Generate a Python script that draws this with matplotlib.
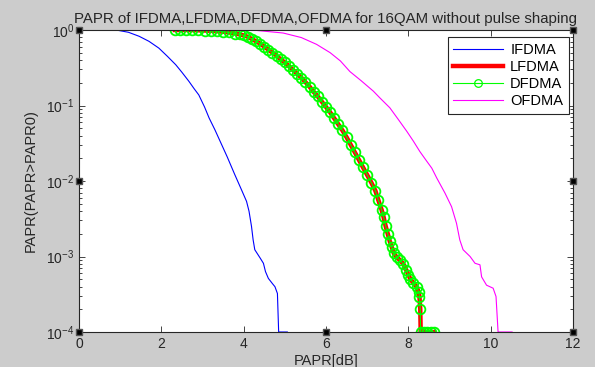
import numpy as np
import matplotlib
matplotlib.use("Agg")
import matplotlib.pyplot as plt

plt.rcParams['font.family'] = ['Liberation Sans', 'DejaVu Sans']
plt.rcParams['mathtext.fontset'] = 'custom'
plt.rcParams['mathtext.rm'] = 'Liberation Sans'
plt.rcParams['mathtext.it'] = 'Liberation Sans'
plt.rcParams['mathtext.default'] = 'regular'

# ---- data (PAPR0 in dB, log10 of CCDF) ----
ifdma_x = [0.0, 0.9, 1.2, 1.46, 1.7, 1.94, 2.15, 2.35, 2.5, 2.67, 2.8, 2.91, 3.05, 3.16,
           3.3, 3.45, 3.6, 3.78, 3.95, 4.07, 4.13, 4.19, 4.23, 4.27, 4.40, 4.48, 4.53,
           4.60, 4.70, 4.76, 4.82, 4.85, 5.06]
ifdma_logp = [0, 0, -0.03, -0.083, -0.15, -0.24, -0.35, -0.46, -0.56, -0.68, -0.78, -0.86,
              -1.02, -1.165, -1.32, -1.50, -1.68, -1.91, -2.12, -2.27, -2.40, -2.60, -2.78,
              -2.91, -3.02, -3.09, -3.20, -3.29, -3.36, -3.40, -3.49, -4.0, -4.0]

lfdma_x = [2.33, 2.45, 2.6, 2.75, 2.9, 3.05, 3.2, 3.35, 3.5, 3.65, 3.8, 3.9, 4.0, 4.1, 4.2,
           4.3, 4.4, 4.5, 4.6, 4.7, 4.8, 4.9, 5.0, 5.1, 5.2, 5.3, 5.4, 5.5, 5.6, 5.7, 5.8,
           5.9, 6.0, 6.1, 6.2, 6.3, 6.4, 6.5, 6.6, 6.7, 6.8, 6.9, 7.0, 7.1, 7.2, 7.27, 7.35,
           7.4, 7.45, 7.5, 7.55, 7.6, 7.65, 7.72, 7.8, 7.88, 7.95, 8.0, 8.05, 8.12, 8.2,
           8.25, 8.27, 8.29, 8.3, 8.38, 8.46, 8.54, 8.62]
lfdma_logp = [0, 0, 0, -0.002, -0.004, -0.007, -0.011, -0.016, -0.023, -0.033, -0.047,
              -0.058, -0.072, -0.09, -0.12, -0.15, -0.18, -0.22, -0.26, -0.30, -0.34, -0.39,
              -0.43, -0.48, -0.53, -0.58, -0.63, -0.69, -0.75, -0.82, -0.88, -0.95, -1.02,
              -1.09, -1.17, -1.25, -1.33, -1.42, -1.52, -1.62, -1.72, -1.82, -1.92, -2.02,
              -2.13, -2.25, -2.38, -2.48, -2.60, -2.70, -2.80, -2.88, -2.96, -3.01, -3.05,
              -3.10, -3.18, -3.24, -3.30, -3.35, -3.40, -3.47, -3.53, -3.7, -4.0, -4.0,
              -4.0, -4.0, -4.0]

dfdma_x = list(lfdma_x)
dfdma_logp = list(lfdma_logp)

ofdma_x = [3.6, 4.3, 4.96, 5.4, 5.77, 6.10, 6.35, 6.58, 6.85, 7.15, 7.31, 7.55, 7.75, 7.96,
           8.12, 8.28, 8.45, 8.57, 8.69, 8.89, 9.05, 9.17, 9.25, 9.33, 9.50, 9.62, 9.74,
           9.78, 9.90, 10.06, 10.13, 10.18, 10.52]
ofdma_logp = [0, -0.005, -0.04, -0.10, -0.19, -0.30, -0.41, -0.55, -0.67, -0.81, -0.90,
              -1.03, -1.18, -1.34, -1.47, -1.61, -1.74, -1.83, -1.96, -2.16, -2.34, -2.56,
              -2.78, -2.91, -3.00, -3.09, -3.11, -3.27, -3.38, -3.42, -3.53, -4.0, -4.0]

x_ticks = [0, 2, 4, 6, 8, 10, 12]
labels = ['IFDMA', 'LFDMA', 'DFDMA', 'OFDMA']
title = 'PAPR of IFDMA,LFDMA,DFDMA,OFDMA for 16QAM without pulse shaping'

# ---- figure ----
bg = '#cccccc'
fig = plt.figure(figsize=(5.95, 3.67), dpi=100, facecolor=bg)
ax = fig.add_axes([79/595, 1 - 332/367, (573 - 79)/595, (332 - 30)/367])
ax.set_facecolor('white')

ax.semilogy(ifdma_x, 10.0 ** np.array(ifdma_logp), color='blue', lw=0.8, label=labels[0])
ax.semilogy(lfdma_x, 10.0 ** np.array(lfdma_logp), color='red', lw=3.2, label=labels[1])
ax.semilogy(dfdma_x, 10.0 ** np.array(dfdma_logp), color='#00ff00', lw=0.8, marker='o',
            markersize=7, markerfacecolor='none', markeredgecolor='#00ff00',
            markeredgewidth=1.3, label=labels[2])
ax.semilogy(ofdma_x, 10.0 ** np.array(ofdma_logp), color='magenta', lw=0.8, label=labels[3])

ax.set_xlim(0, 12)
ax.set_ylim(1e-4, 1)
ax.set_xticks(x_ticks)
ax.tick_params(axis='both', which='both', direction='in', top=True, right=True,
               labelsize=10, colors='#262626')
ax.tick_params(which='major', length=4, width=0.6)
ax.tick_params(which='minor', length=2.5, width=0.6)
for s in ax.spines.values():
    s.set_color('#262626')
    s.set_linewidth(0.8)

ax.set_title(title, fontsize=10.8, color='#262626', pad=5)
ax.set_xlabel('PAPR[dB]', fontsize=10.5, color='#262626', labelpad=2)
ax.set_ylabel('PAPR(PAPR>PAPR0)', fontsize=10.5, color='#262626', labelpad=6)

leg = ax.legend(loc='upper right', bbox_to_anchor=(0.992, 0.977), borderaxespad=0,
                fontsize=10.5, handlelength=3.4, labelspacing=0.22, fancybox=False,
                framealpha=1, edgecolor='#262626', borderpad=0.4, handletextpad=0.5)
leg.get_frame().set_linewidth(0.8)
for h in leg.get_lines():
    if h.get_marker() == 'o':
        h.set_markersize(5.5)
        h.set_markeredgewidth(0.9)

# selection handles on the axes box
for hx, hy in [(0, 0), (0.5, 0), (1, 0), (0, 0.5), (1, 0.5), (0, 1), (0.5, 1), (1, 1)]:
    ax.plot(hx, hy, marker='s', markersize=4.5, color='black', markeredgecolor='#555555',
            transform=ax.transAxes, clip_on=False, zorder=10)

fig.savefig('out.png', dpi=100, facecolor=bg)
